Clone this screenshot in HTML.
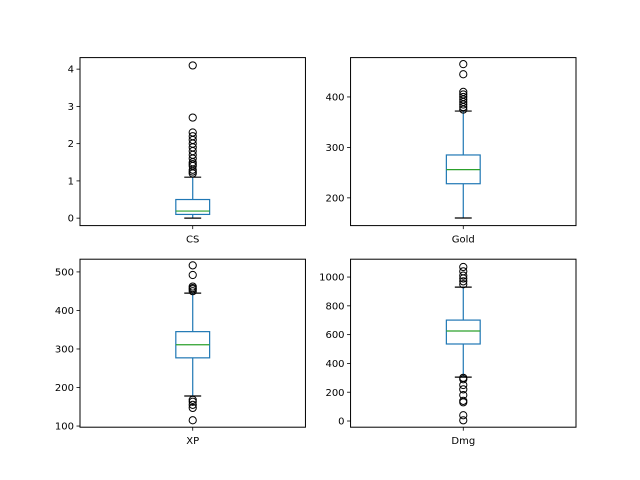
<!DOCTYPE html>
<html><head><meta charset="utf-8"><style>body{margin:0;background:#fff}svg{display:block;font-family:"DejaVu Sans","Liberation Sans",sans-serif}</style></head>
<body>
<svg id="c" width="640" height="480" viewBox="0 0 640 480"></svg>
<script>
const titles = ["CS","Gold","XP","Dmg"];
const q1s = [0.1, 228, 277, 535];
const medians = [0.19, 256, 311, 625];
const q3s = [0.5, 285, 345, 701];
const whiskLo = [0, 160, 178, 305];
const whiskHi = [1.1, 372, 445, 930];
const outliers = [
  [4.1,2.7,2.3,2.2,2.1,2.0,1.9,1.8,1.7,1.6,1.5,1.45,1.4,1.3,1.25,1.2],
  [465,445,410,405,400,395,390,385,380,375],
  [517,492,462,458,455,450,168,163,155,147,115],
  [1070,1040,1010,990,970,950,300,290,250,220,180,140,130,40,5]
];
const yMins = [-0.2, 145, 97, -43];
const yMaxs = [4.31, 478, 533, 1124];
const ticks = [[0,1,2,3,4],[200,300,400],[100,200,300,400,500],[0,200,400,600,800,1000]];
const NS="http://www.w3.org/2000/svg";
const svg=document.getElementById('c');
function mk(tag,attrs,parent){const e=document.createElementNS(NS,tag);for(const k in attrs)e.setAttribute(k,attrs[k]);(parent||svg).appendChild(e);return e;}
const axW=225.45, axH=168;
const lefts=[80,350.55,80,350.55], tops=[57.6,57.6,259.2,259.2];
for(let i=0;i<4;i++){
  const L=lefts[i],T=tops[i];
  const g=mk('g',{});
  
  
  const y=v=>T+axH-(v-yMins[i])/(yMaxs[i]-yMins[i])*axH;
  const cx=L+axW/2, bw=axW*0.15, cw=bw/2;
  const wl=mk('path',{d:`M${cx} ${y(q1s[i])}V${y(whiskLo[i])}M${cx} ${y(q3s[i])}V${y(whiskHi[i])}`,stroke:'#1f77b4','stroke-width':1.2,fill:'none'},g);
  
  
  const cap=mk('path',{d:`M${cx-cw/2} ${y(whiskLo[i])}H${cx+cw/2}M${cx-cw/2} ${y(whiskHi[i])}H${cx+cw/2}`,stroke:'#000','stroke-width':1.2},g);
  
  
  const box=mk('rect',{x:cx-bw/2,y:y(q3s[i]),width:bw,height:y(q1s[i])-y(q3s[i]),fill:'none',stroke:'#1f77b4','stroke-width':1.2},g);
  
  
  const med=mk('line',{x1:cx-bw/2,x2:cx+bw/2,y1:y(medians[i]),y2:y(medians[i]),stroke:'#2ca02c','stroke-width':1.2},g);
  
  
  outliers[i].forEach(v=>{
    const c=mk('circle',{cx:cx,cy:y(v),r:3.6,fill:'none',stroke:'#000','stroke-width':1},g);
    
    
  });
  const fr=mk('rect',{x:L,y:T,width:axW,height:axH,fill:'none',stroke:'#000','stroke-width':1},g);
  
  
  ticks[i].forEach(t=>{
    const ty=y(t);
    mk('line',{x1:L-3.5,x2:L,y1:ty,y2:ty,stroke:'#000','stroke-width':0.8},g);
    const tx=mk('text',{x:L-6,y:ty+3.6,'text-anchor':'end','font-size':10,fill:'#000'},g);
    tx.textContent=t;
    
    
  });
  mk('line',{x1:cx,x2:cx,y1:T+axH,y2:T+axH+3.5,stroke:'#000','stroke-width':0.8},g);
  const xl=mk('text',{x:cx,y:T+axH+17,'text-anchor':'middle','font-size':10,fill:'#000'},g);
  xl.textContent=titles[i];
  
  
}
</script>
</body></html>
